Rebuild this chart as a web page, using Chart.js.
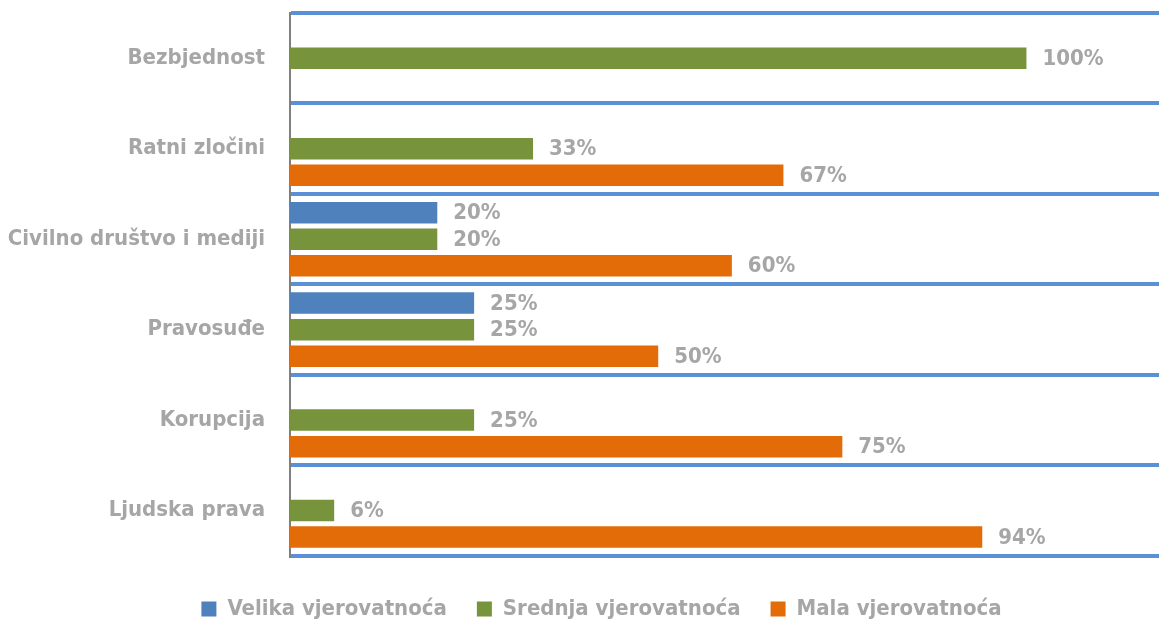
<!DOCTYPE html>
<html>
<head>
<meta charset="utf-8">
<script src="https://cdn.jsdelivr.net/npm/chart.js@4"></script>
<style>
html,body{margin:0;padding:0;background:#fff;overflow:hidden;}
#wrap{width:1159px;height:630px;position:relative;}
</style>
</head>
<body>
<div id="wrap"><canvas id="c" width="1159" height="630"></canvas></div>
<script>
const categories = ["Bezbjednost","Ratni zločini","Civilno društvo i mediji","Pravosuđe","Korupcija","Ljudska prava"];
const seriesNames = ["Velika vjerovatnoća","Srednja vjerovatnoća","Mala vjerovatnoća"];
const velika = [null, null, 20, 25, null, null];
const srednja = [100, 33, 20, 25, 25, 6];
const mala = [null, 67, 60, 50, 75, 94];
const colors = ["#4f81bd","#77933c","#e36c09"];

const FONT = '"DejaVu Sans Condensed","Liberation Sans Narrow",sans-serif';
const GRAY = '#a6a6a6';

const labelPlugin = {
  id:'valueLabels',
  afterDatasetsDraw(chart){
    const ctx = chart.ctx;
    ctx.save();
    ctx.font = 'bold 22px ' + FONT;
    ctx.fillStyle = GRAY;
    ctx.textAlign = 'left';
    ctx.textBaseline = 'middle';
    chart.data.datasets.forEach((ds,i)=>{
      const meta = chart.getDatasetMeta(i);
      meta.data.forEach((bar,j)=>{
        const v = ds.data[j];
        if(v===null||v===undefined) return;
        ctx.fillText(v+'%', bar.x+16, bar.y+1);
      });
    });
    ctx.restore();
  }
};

// shift the centred legend a little to the right, as in the original
const legendShift = {
  id:'legendShift',
  afterLayout(chart){
    if(chart.legend){ chart.legend.left += 44; }
  }
};

new Chart(document.getElementById('c'),{
  type:'bar',
  data:{
    labels:categories,
    datasets:[
      {label:seriesNames[0], data:velika, backgroundColor:colors[0]},
      {label:seriesNames[1], data:srednja, backgroundColor:colors[1]},
      {label:seriesNames[2], data:mala, backgroundColor:colors[2]}
    ]
  },
  options:{
    indexAxis:'y',
    responsive:false,
    animation:false,
    devicePixelRatio:1,
    categoryPercentage:0.88,
    barPercentage:0.81,
    layout:{padding:{top:13,right:0,left:0,bottom:0}},
    plugins:{
      legend:{
        position:'bottom',
        title:{display:true,text:'',font:{size:1},padding:{top:6,bottom:5}},
        labels:{
          font:{family:FONT,size:22,weight:'bold'},
          color:GRAY,
          boxWidth:15,
          boxHeight:15,
          padding:30
        }
      },
      tooltip:{enabled:false}
    },
    scales:{
      x:{
        min:0,max:118,
        display:false,
        grid:{display:false}
      },
      y:{
        grid:{color:'#5a91d6',lineWidth:4,offset:true,drawTicks:false},
        border:{color:'#808080',width:2},
        ticks:{font:{family:FONT,size:22,weight:'bold'},color:GRAY,padding:25},
        afterFit(s){ s.width = 290; s.paddingTop = 0; s.paddingBottom = 0; }
      }
    }
  },
  plugins:[labelPlugin, legendShift]
});
</script>
</body>
</html>
